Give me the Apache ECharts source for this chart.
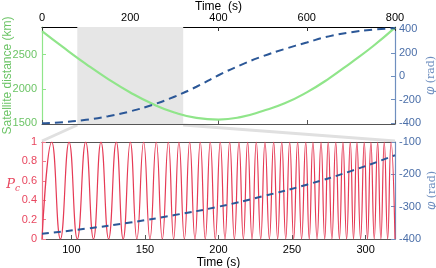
<!DOCTYPE html>
<html><head><meta charset="utf-8">
<script src="https://cdn.jsdelivr.net/npm/echarts@6/dist/echarts.min.js"></script>
<style>html,body{margin:0;padding:0;background:#fff}#c{width:436px;height:268px}</style>
</head><body><div id="c"></div>
<script>
// ---- data ----
const tTop = [0,50,100,150,200,250,300,350,400,450,500,550,600,650,700,750,800];
const distance = [2840,2595,2361,2143,1948,1783,1657,1578,1555,1590,1679,1790,1950,2150,2380,2620,2890];
const phaseTop = [-402,-392,-372,-342,-300,-245,-175,-90,8,95,170,232,288,340,375,398,410];
const zoomRange = [80, 320];
const tBot = [80,110,140,170,200,230,260,290,320];
const phaseBot = [-384,-368,-349,-326,-300,-268,-232,-190,-141];
const pcPeaks = [86.6,98.4,109.7,120.1,130.5,140.0,149.1,157.7,165.9,173.1,180.4,187.6,194.4,201.2,207.6,213.9,219.8,225.7,231.6,237.5,243.0,248.4,253.8,259.3,264.2,269.7,274.6,279.7,284.6,289.6,294.1,299.1,303.6,308.2,312.7,317.3];
const pcTroughs = [80.0,92.5,104.0,115.0,125.3,135.2,144.5,153.4,161.8,169.5,176.8,184.0,191.0,197.8,204.4,210.8,216.9,222.8,228.7,234.6,240.2,245.7,251.1,256.5,261.7,267.0,272.2,277.1,282.2,287.1,291.8,296.6,301.3,305.9,310.4,315.0,320.0];
const topTicks = [0,200,400,600,800];
const distTicks = [1500,2000,2500];
const phaseTopTicks = [-400,-200,0,200,400];
const botTicks = [100,150,200,250,300];

// ---- build ----
const zip = (a,b) => a.map((v,i)=>[v,b[i]]);
const pcData = pcTroughs.map(t=>[t,0]).concat(pcPeaks.map(t=>[t,1])).sort((a,b)=>a[0]-b[0]);

const GREEN='#90e58a', GREEN_T='#6cc466', BLUE='#2b5797', BLUE_AX='#6f8fbf', RED='#e63a55', RED_T='#e8475f';
const FONT='Liberation Sans';
const plain = v => String(v);
const lbl = (c)=>({color:c,fontSize:11,fontFamily:FONT,formatter:plain});
const phiName = (c)=>({color:c,rich:{
  f:{fontFamily:'DejaVu Serif',fontStyle:'italic',fontSize:12,color:c},
  r:{fontFamily:'DejaVu Serif',fontSize:11,color:c}}});

const chart = echarts.init(document.getElementById('c'), null, {renderer:'canvas'});
const option = {
  animation:false,
  grid:[
    {left:42,right:41,top:27,height:97,containLabel:false,outerBoundsMode:'none'},
    {left:42,right:41,top:142,height:97,containLabel:false,outerBoundsMode:'none'}
  ],
  xAxis:[
    {gridIndex:0,type:'value',position:'top',min:0,max:800,interval:200,
     axisLine:{onZero:false,lineStyle:{color:'#000',width:1}},axisTick:{inside:true,length:4,lineStyle:{color:'#333'}},
     axisLabel:{...lbl('#000'),margin:4},splitLine:{show:false},
     name:'Time  (s)',nameLocation:'middle',nameGap:14,nameMoveOverlap:false,
     nameTextStyle:{color:'#000',fontSize:12,fontFamily:FONT}},
    {gridIndex:1,type:'value',position:'bottom',min:zoomRange[0],max:zoomRange[1],
     axisLine:{onZero:false,lineStyle:{color:'#555',width:1}},axisTick:{inside:true,length:4,customValues:botTicks,lineStyle:{color:'#555'}},
     axisLabel:{...lbl('#000'),margin:5,customValues:botTicks},splitLine:{show:false},
     name:'Time (s)',nameLocation:'middle',nameGap:18,nameMoveOverlap:false,
     nameTextStyle:{color:'#000',fontSize:12,fontFamily:FONT}},
    {gridIndex:0,type:'value',position:'bottom',min:0,max:800,interval:200,
     axisLine:{onZero:false,lineStyle:{color:'#555',width:1}},axisTick:{inside:true,length:4,lineStyle:{color:'#555'}},
     axisLabel:{show:false},splitLine:{show:false}},
    {gridIndex:1,type:'value',position:'top',min:zoomRange[0],max:zoomRange[1],
     axisLine:{onZero:false,lineStyle:{color:'#555',width:1}},axisTick:{show:false},
     axisLabel:{show:false},splitLine:{show:false}}
  ],
  yAxis:[
    {gridIndex:0,type:'value',position:'left',min:1490,max:2900,
     axisLine:{show:true,onZero:false,lineStyle:{color:GREEN,width:1.2}},
     axisTick:{show:true,inside:true,length:4,customValues:distTicks,lineStyle:{color:GREEN}},
     axisLabel:{...lbl(GREEN_T),margin:5,customValues:distTicks},splitLine:{show:false},
     name:'Satellite distance (km)',nameLocation:'middle',nameGap:28,nameMoveOverlap:false,
     nameTextStyle:{color:GREEN_T,fontSize:12,fontFamily:FONT}},
    {gridIndex:0,type:'value',position:'right',min:-408,max:420,
     axisLine:{show:true,onZero:false,lineStyle:{color:BLUE_AX,width:1.2}},
     axisTick:{show:true,inside:true,length:4,customValues:phaseTopTicks,lineStyle:{color:BLUE_AX}},
     axisLabel:{...lbl('#4a6ea8'),margin:4,customValues:phaseTopTicks},splitLine:{show:false},
     name:'{f|φ} {r|(rad)}',nameLocation:'middle',nameGap:30,nameMoveOverlap:false,nameTextStyle:phiName(BLUE_AX)},
    {gridIndex:1,type:'value',position:'left',min:0,max:1,interval:0.2,
     axisLine:{show:true,onZero:false,lineStyle:{color:'#f07a8c',width:1.2}},
     axisTick:{show:true,inside:true,length:4,lineStyle:{color:'#f07a8c'}},
     axisLabel:{...lbl(RED_T),margin:5},splitLine:{show:false},
     name:'{p|P}{s|c}',nameLocation:'middle',nameGap:22,nameRotate:0,nameMoveOverlap:false,
     nameTextStyle:{color:RED_T,padding:[0,0,12,0],rich:{
       p:{fontFamily:'DejaVu Serif',fontStyle:'italic',fontSize:13,color:RED_T},
       s:{fontFamily:'DejaVu Serif',fontStyle:'italic',fontSize:9,color:RED_T,padding:[8,0,0,0]}}}},
    {gridIndex:1,type:'value',position:'right',min:-400,max:-100,interval:100,
     axisLine:{show:true,onZero:false,lineStyle:{color:BLUE_AX,width:1.2}},
     axisTick:{show:true,inside:true,length:4,lineStyle:{color:BLUE_AX}},
     axisLabel:{...lbl('#4a6ea8'),margin:4},splitLine:{show:false},
     name:'{f|φ} {r|(rad)}',nameLocation:'middle',nameGap:31,nameMoveOverlap:false,nameTextStyle:phiName(BLUE_AX)}
  ],
  series:[
    {type:'line',xAxisIndex:0,yAxisIndex:0,data:[],z:1,silent:true,
     markArea:{silent:true,itemStyle:{color:'#e6e6e6'},data:[[{xAxis:zoomRange[0]},{xAxis:zoomRange[1]}]]}},
    {type:'line',xAxisIndex:0,yAxisIndex:0,data:zip(tTop,distance),smooth:true,showSymbol:false,z:3,
     lineStyle:{color:GREEN,width:2.2}},
    {type:'line',xAxisIndex:0,yAxisIndex:1,data:zip(tTop,phaseTop),smooth:true,showSymbol:false,z:4,
     lineStyle:{color:BLUE,width:2,type:[8,5]}},
    {type:'line',xAxisIndex:1,yAxisIndex:2,data:pcData,smooth:true,showSymbol:false,z:3,
     lineStyle:{color:RED,width:1.2}},
    {type:'line',xAxisIndex:1,yAxisIndex:3,data:zip(tBot,phaseBot),smooth:true,showSymbol:false,z:4,
     lineStyle:{color:BLUE,width:2,type:[7,5]}}
  ]
};
chart.setOption(option);

// connector lines from the shaded range to the lower chart, positioned through the axes
const xa = chart.convertToPixel({xAxisIndex:0}, zoomRange[0]);
const xb = chart.convertToPixel({xAxisIndex:0}, zoomRange[1]);
const yTopBottom = chart.convertToPixel({yAxisIndex:0}, 1490);
const xc = chart.convertToPixel({xAxisIndex:1}, zoomRange[0]);
const xd = chart.convertToPixel({xAxisIndex:1}, zoomRange[1]);
const yBotTop = chart.convertToPixel({yAxisIndex:2}, 1);
chart.setOption({graphic:[
  {type:'line',shape:{x1:xa,y1:yTopBottom+1,x2:xc,y2:yBotTop-1},style:{stroke:'#e0e0e0',lineWidth:3},z:0,silent:true},
  {type:'line',shape:{x1:xb,y1:yTopBottom+1,x2:xd,y2:yBotTop-1},style:{stroke:'#e0e0e0',lineWidth:3},z:0,silent:true}
]});
</script></body></html>
